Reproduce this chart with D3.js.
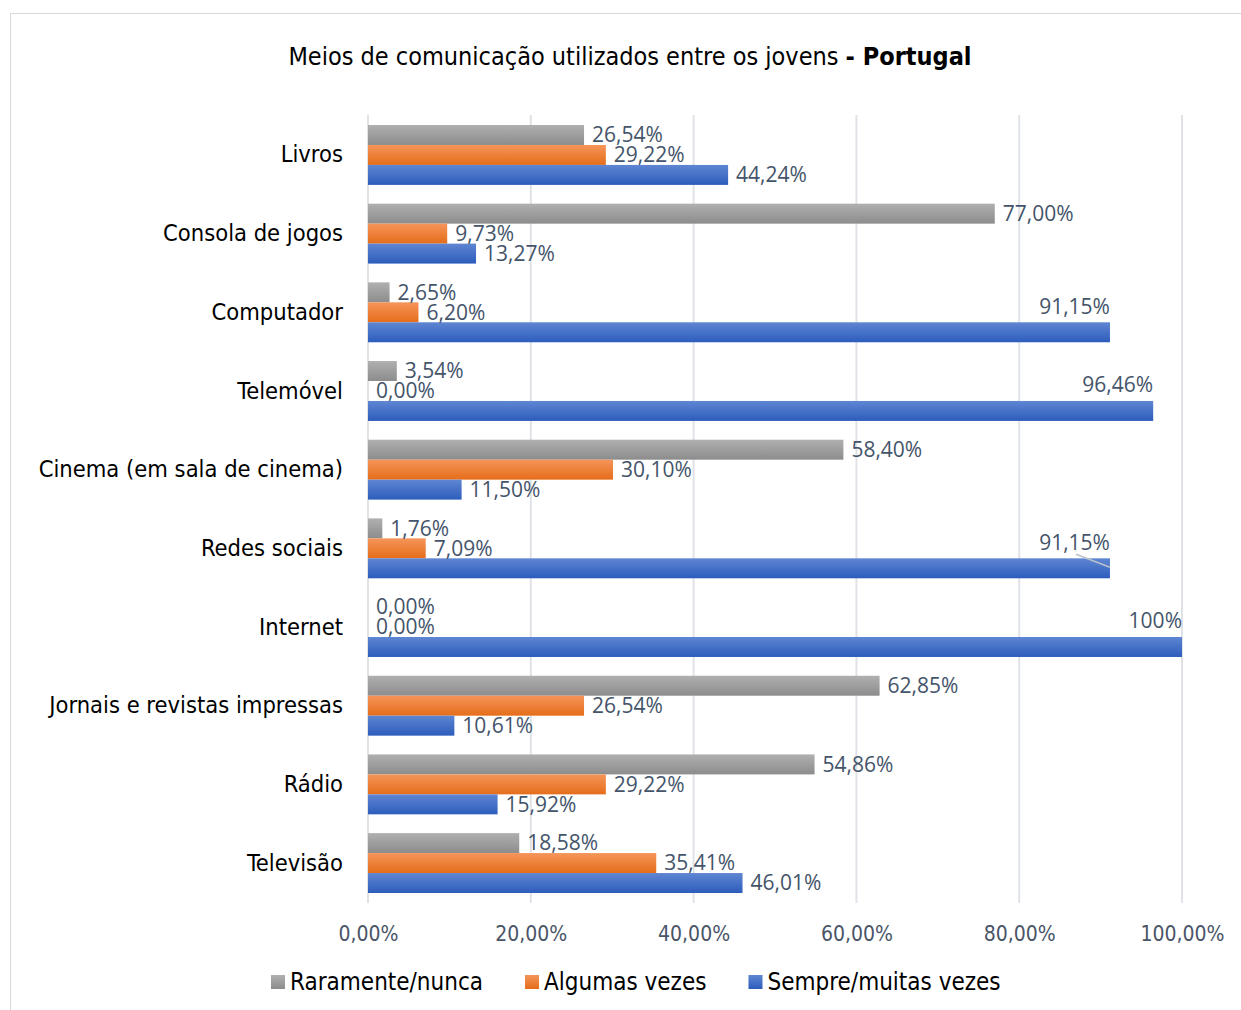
<!DOCTYPE html>
<html>
<head>
<meta charset="utf-8">
<script src="https://cdn.jsdelivr.net/npm/d3@7"></script>
<style>
  html, body { margin: 0; padding: 0; background: #ffffff; }
  svg { display: block; }
</style>
</head>
<body>
<div id="chart"></div>
<script>
// Media used by young people in Portugal (share of respondents per frequency)
const categories = [
  "Livros",
  "Consola de jogos",
  "Computador",
  "Telemóvel",
  "Cinema (em sala de cinema)",
  "Redes sociais",
  "Internet",
  "Jornais e revistas impressas",
  "Rádio",
  "Televisão"
];
const seriesNames = ["Raramente/nunca", "Algumas vezes", "Sempre/muitas vezes"];
const raramente = [26.54, 77.00, 2.65, 3.54, 58.40, 1.76, 0.00, 62.85, 54.86, 18.58];
const algumas   = [29.22, 9.73, 6.20, 0.00, 30.10, 7.09, 0.00, 26.54, 29.22, 35.41];
const sempre    = [44.24, 13.27, 91.15, 96.46, 11.50, 91.15, 100, 10.61, 15.92, 46.01];
const labelText = [
  ["26,54%", "77,00%", "2,65%", "3,54%", "58,40%", "1,76%", "0,00%", "62,85%", "54,86%", "18,58%"],
  ["29,22%", "9,73%", "6,20%", "0,00%", "30,10%", "7,09%", "0,00%", "26,54%", "29,22%", "35,41%"],
  ["44,24%", "13,27%", "91,15%", "96,46%", "11,50%", "91,15%", "100%", "10,61%", "15,92%", "46,01%"]
];
const xTicks = [0, 20, 40, 60, 80, 100];
const xTickLabels = ["0,00%", "20,00%", "40,00%", "60,00%", "80,00%", "100,00%"];

const seriesValues = [raramente, algumas, sempre];
const gradStops = [
  ["#b0b0b0", "#8c8c8c"],
  ["#f5955a", "#e56d1a"],
  ["#5f86d2", "#2c5cbc"]
];

const W = 1241, H = 1010;
const svg = d3.select("#chart").append("svg")
  .attr("width", W).attr("height", H);

svg.append("rect").attr("width", W).attr("height", H).attr("fill", "#fff");
// chart area frame
svg.append("rect")
  .attr("x", 10.5).attr("y", 13.5)
  .attr("width", W).attr("height", H)
  .attr("fill", "none").attr("stroke", "#d9d9d9").attr("stroke-width", 1);

const defs = svg.append("defs");
gradStops.forEach((s, i) => {
  const g = defs.append("linearGradient")
    .attr("id", "grad" + i).attr("x1", 0).attr("y1", 0).attr("x2", 0).attr("y2", 1);
  g.append("stop").attr("offset", "0%").attr("stop-color", s[0]);
  g.append("stop").attr("offset", "100%").attr("stop-color", s[1]);
});

const plot = { left: 368, right: 1182, top: 115, bottom: 903 };

const x = d3.scaleLinear().domain([0, 100]).range([plot.left, plot.right]);
const y = d3.scaleBand().domain(categories)
  .range([plot.top, plot.bottom])
  .paddingInner(0.2386).paddingOuter(0.127);
const ySub = d3.scaleBand().domain(d3.range(seriesNames.length))
  .range([0, y.bandwidth()]);

const condensed = "'DejaVu Sans Condensed', 'Liberation Sans Narrow', sans-serif";
const labelFont = "'Open Sans', 'Noto Sans', sans-serif";

// Title
const title = svg.append("text")
  .attr("x", 630).attr("y", 65)
  .attr("text-anchor", "middle")
  .attr("font-family", condensed)
  .attr("font-size", 25)
  .attr("fill", "#000");
title.append("tspan").text("Meios de comunicação utilizados entre os jovens ");
title.append("tspan").attr("font-weight", "bold").text("- Portugal");

// Vertical gridlines
svg.append("g")
  .selectAll("line")
  .data(xTicks)
  .join("line")
  .attr("x1", d => x(d)).attr("x2", d => x(d))
  .attr("y1", plot.top).attr("y2", plot.bottom)
  .attr("stroke", "#dfe3e8").attr("stroke-width", 2);

// X axis tick labels
const xAxis = d3.axisBottom(x)
  .tickValues(xTicks)
  .tickFormat((d, i) => xTickLabels[i])
  .tickSize(0).tickPadding(0);
const xg = svg.append("g")
  .attr("transform", `translate(0, ${plot.bottom + 24})`)
  .call(xAxis);
xg.select(".domain").remove();
xg.selectAll("text")
  .attr("font-family", "'DejaVu Sans Condensed', sans-serif")
  .attr("font-size", 21)
  .attr("fill", "#4a5568")
  .attr("dy", "0.32em")
  .attr("y", 7);

// Y axis category labels
const yAxis = d3.axisLeft(y).tickSize(0).tickPadding(25);
const yg = svg.append("g")
  .attr("transform", `translate(${plot.left}, 0)`)
  .call(yAxis);
yg.select(".domain").remove();
yg.selectAll("text")
  .attr("font-family", condensed)
  .attr("font-size", 23.5)
  .attr("fill", "#000");

// Bars
const rows = [];
seriesValues.forEach((vals, si) => {
  vals.forEach((v, ci) => rows.push({ si, ci, v, cat: categories[ci], label: labelText[si][ci] }));
});

const barY = d => y(d.cat) + ySub(d.si);
const bh = ySub.bandwidth();

svg.append("g")
  .selectAll("rect")
  .data(rows)
  .join("rect")
  .attr("x", x(0))
  .attr("y", d => barY(d))
  .attr("width", d => x(d.v) - x(0))
  .attr("height", bh)
  .attr("fill", d => `url(#grad${d.si})`);

// Value labels: right of the bar end, or above the bar end for nearly-full bars
const labels = svg.append("g")
  .attr("font-family", labelFont)
  .attr("font-size", 21)
  .attr("fill", "#44546a");

labels.selectAll("text")
  .data(rows)
  .join("text")
  .attr("x", d => d.v > 90 ? x(d.v) : x(d.v) + 8)
  .attr("y", d => d.v > 90 ? barY(d) - 16 : barY(d) + bh / 2)
  .attr("dy", "0.35em")
  .attr("text-anchor", d => d.v > 90 ? "end" : "start")
  .text(d => d.label);

// Leader line for the displaced Redes sociais label
const leader = rows.find(d => d.si === 2 && d.cat === "Redes sociais");
svg.append("line")
  .attr("x1", x(leader.v) - 34).attr("y1", barY(leader) - 4)
  .attr("x2", x(leader.v)).attr("y2", barY(leader) + 9)
  .attr("stroke", "#b8c2cc").attr("stroke-width", 1.5);

// Legend
const legend = svg.append("g").attr("transform", "translate(271, 982)");
let lx = 0;
seriesNames.forEach((name, i) => {
  const item = legend.append("g").attr("transform", `translate(${lx}, 0)`);
  item.append("rect")
    .attr("x", 0).attr("y", -7).attr("width", 14).attr("height", 14)
    .attr("fill", `url(#grad${i})`);
  const t = item.append("text")
    .attr("x", 19).attr("y", 0).attr("dy", "0.35em")
    .attr("font-family", condensed)
    .attr("font-size", 24)
    .attr("fill", "#000")
    .text(name);
  lx += 19 + t.node().getComputedTextLength() + 42;
});
</script>
</body>
</html>
